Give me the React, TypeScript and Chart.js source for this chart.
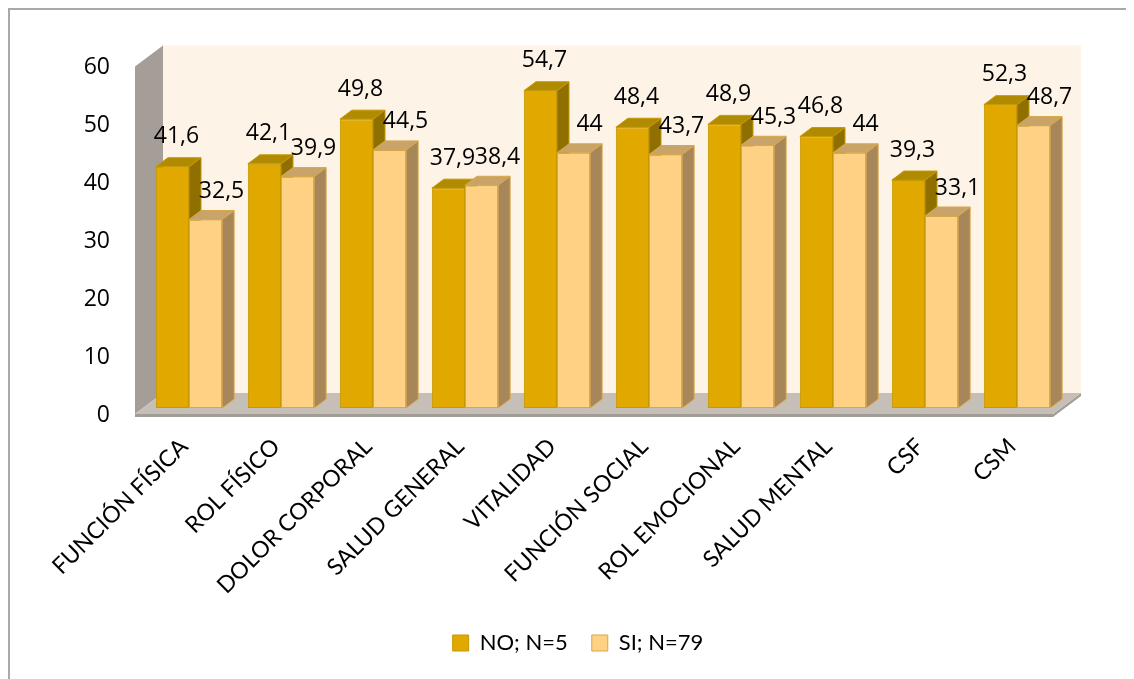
import React, { useEffect, useRef } from "react";
import { Chart, registerables } from "chart.js";

Chart.register(...registerables);

// ---- data ----
const categories = [
  "FUNCIÓN FÍSICA",
  "ROL FÍSICO",
  "DOLOR CORPORAL",
  "SALUD GENERAL",
  "VITALIDAD",
  "FUNCIÓN SOCIAL",
  "ROL EMOCIONAL",
  "SALUD MENTAL",
  "CSF",
  "CSM",
];
const seriesNames = ["NO; N=5", "SI; N=79"];
const noValues = [41.6, 42.1, 49.8, 37.9, 54.7, 48.4, 48.9, 46.8, 39.3, 52.3];
const siValues = [32.5, 39.9, 44.5, 38.4, 44, 43.7, 45.3, 44, 33.1, 48.7];
const yMin = 0;
const yMax = 60;
const yStep = 10;

// ---- style ----
const FONT = "Lato, 'Open Sans', sans-serif";
const NUMFONT = "'Open Sans', Lato, sans-serif";
const FS = 22;
const XFS = 23;
const NFS = 23;
const DX = 12; // bar depth
const DY = 9;
const WX = 28; // wall depth
const WY = 21;

const faceStyles = [
  { front: "#e1a900", top: "#b08a00", side: "#8e6f00", edge: "#c79800" },
  { front: "#ffd184", top: "#c9a46a", side: "#a7875a", edge: "#d8a746" },
];

const fmt = (v: number) => String(v).replace(".", ",");

function poly(ctx: CanvasRenderingContext2D, pts: number[][], fill: string, stroke?: string) {
  ctx.beginPath();
  ctx.moveTo(pts[0][0], pts[0][1]);
  for (let i = 1; i < pts.length; i++) ctx.lineTo(pts[i][0], pts[i][1]);
  ctx.closePath();
  ctx.fillStyle = fill;
  ctx.fill();
  if (stroke) {
    ctx.strokeStyle = stroke;
    ctx.lineWidth = 1;
    ctx.stroke();
  }
}

function drawTopSide(ctx: CanvasRenderingContext2D, el: any, st: any) {
  const { x, y, base, width } = el.getProps(["x", "y", "base", "width"], true);
  const L = x - width / 2;
  const R = x + width / 2;
  poly(ctx, [[R, y], [R + DX, y - DY], [R + DX, base - DY], [R, base]], st.side, st.edge);
  poly(ctx, [[L, y], [R, y], [R + DX, y - DY], [L + DX, y - DY]], st.top, st.edge);
}

const threeD = {
  id: "threeD",
  beforeDraw(chart: any) {
    const ctx = chart.ctx;
    ctx.save();
    ctx.fillStyle = "#a9a9a9";
    ctx.fillRect(0, 0, chart.width, 2);
    ctx.fillRect(0, 0, 2, chart.height);
    ctx.restore();
  },
  beforeDatasetsDraw(chart: any) {
    const { ctx, chartArea, scales } = chart;
    const ys = scales.y;
    const fx0 = chartArea.left - 8;
    const fx1 = chartArea.right - 10;
    const fyB = ys.getPixelForValue(yMin) + 6;
    const fyT = ys.getPixelForValue(yMax) + 6.5;
    ctx.save();
    // back wall
    ctx.fillStyle = "#fdf3e6";
    ctx.fillRect(fx0 + WX, fyT - WY, fx1 - fx0, fyB - fyT);
    // left wall
    poly(ctx, [[fx0, fyT], [fx0 + WX, fyT - WY], [fx0 + WX, fyB - WY], [fx0, fyB]], "#a49d98");
    // floor thickness
    poly(
      ctx,
      [[fx0, fyB], [fx1, fyB], [fx1 + WX, fyB - WY], [fx1 + WX, fyB - WY + 3], [fx1, fyB + 3], [fx0, fyB + 3]],
      "#a29c97"
    );
    // floor
    poly(ctx, [[fx0, fyB], [fx0 + WX, fyB - WY], [fx1 + WX, fyB - WY], [fx1, fyB]], "#c6bfb8");
    ctx.restore();
  },
  afterDatasetsDraw(chart: any) {
    const ctx = chart.ctx;
    const m0 = chart.getDatasetMeta(0);
    const m1 = chart.getDatasetMeta(1);
    ctx.save();
    for (let i = 0; i < categories.length; i++) {
      drawTopSide(ctx, m0.data[i], faceStyles[0]);
      m1.data[i].draw(ctx);
      drawTopSide(ctx, m1.data[i], faceStyles[1]);
    }
    ctx.fillStyle = "#000";
    ctx.font = `${NFS}px ${NUMFONT}`;
    ctx.textAlign = "center";
    ctx.textBaseline = "middle";
    const offs = [
      [4, -30],
      [16, -28],
    ];
    [m0, m1].forEach((m: any, di: number) => {
      const vals = di === 0 ? noValues : siValues;
      m.data.forEach((el: any, i: number) => {
        const { x, y } = el.getProps(["x", "y"], true);
        ctx.fillText(fmt(vals[i]), x + offs[di][0], y + offs[di][1]);
      });
    });
    ctx.restore();
  },
};

export default function App() {
  const ref = useRef<HTMLCanvasElement | null>(null);
  useEffect(() => {
    if (!ref.current) return;
    Chart.defaults.font.family = FONT;
    const chart = new Chart(ref.current, {
      type: "bar",
      data: {
        labels: categories,
        datasets: [
          {
            label: seriesNames[0],
            data: noValues,
            backgroundColor: faceStyles[0].front,
            borderColor: faceStyles[0].edge,
            borderWidth: 1,
            borderSkipped: false,
            categoryPercentage: 0.72,
            barPercentage: 1,
          },
          {
            label: seriesNames[1],
            data: siValues,
            backgroundColor: faceStyles[1].front,
            borderColor: faceStyles[1].edge,
            borderWidth: 1,
            borderSkipped: false,
            categoryPercentage: 0.72,
            barPercentage: 1,
          },
        ],
      },
      options: {
        responsive: false,
        animation: false,
        devicePixelRatio: 1,
        layout: { padding: { top: 52, right: 31, left: 45, bottom: 15 } },
        plugins: {
          tooltip: { enabled: false },
          legend: {
            position: "bottom",
            labels: {
              boxWidth: 16,
              boxHeight: 16,
              padding: 24,
              color: "#000",
              font: { size: FS, family: FONT },
            },
          },
        },
        scales: {
          x: {
            grid: { display: false, drawTicks: false },
            border: { display: false },
            ticks: {
              minRotation: 45,
              maxRotation: 45,
              autoSkip: false,
              padding: 25,
              labelOffset: -5,
              color: "#000",
              font: { size: XFS, family: FONT },
            },
            afterFit: (s: any) => {
              s.height = 200;
            },
          },
          y: {
            min: yMin,
            max: yMax,
            grid: { display: false, drawTicks: false },
            border: { display: false },
            ticks: {
              stepSize: yStep,
              padding: 33,
              labelOffset: 7,
              color: "#000",
              font: { size: NFS, family: NUMFONT },
            },
            afterFit: (s: any) => {
              s.width = 90;
            },
          },
          yPad: {
            type: "linear",
            position: "right",
            min: 0,
            max: 1,
            grid: { display: false, drawTicks: false },
            border: { display: false },
            ticks: { display: false },
            afterFit: (s: any) => {
              s.width = 40;
            },
          },
        },
      },
      plugins: [threeD],
    });
    return () => chart.destroy();
  }, []);
  return <canvas ref={ref} width={1126} height={671} style={{ display: "block" }} />;
}
